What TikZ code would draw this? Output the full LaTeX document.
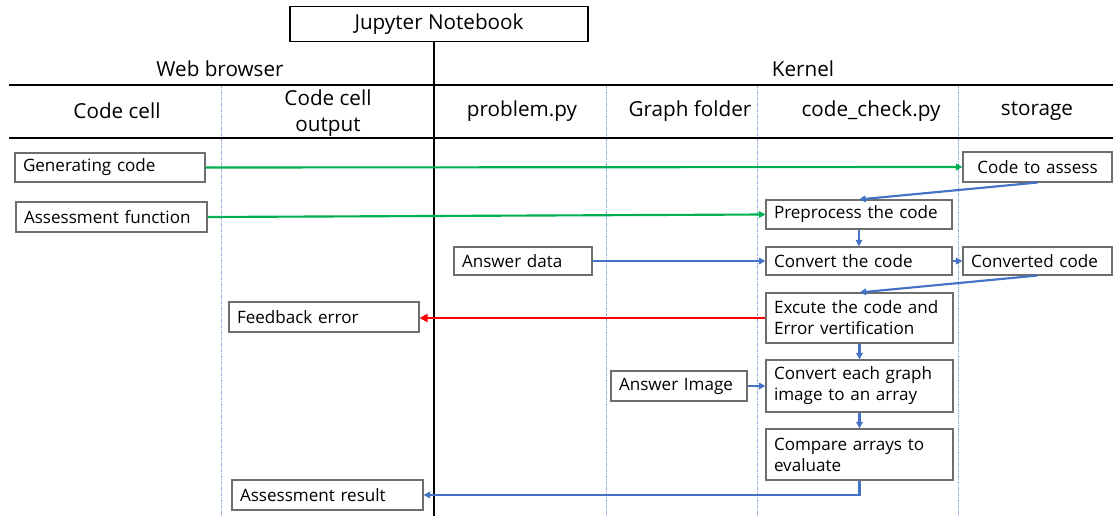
\documentclass[tikz,border=0pt]{standalone}
\usepackage{fontspec}
\setmainfont{Open Sans}
\usetikzlibrary{arrows.meta}
\definecolor{gline}{RGB}{0,176,80}
\definecolor{bline}{RGB}{68,114,196}
\definecolor{rline}{RGB}{255,0,0}
\definecolor{boxgray}{RGB}{110,110,110}
\definecolor{divblue}{RGB}{143,170,220}
\tikzset{
  bx/.style={draw=boxgray, line width=0.8pt, align=left, inner xsep=6pt, inner ysep=0pt,
    font=\fontsize{12.8}{15.75}\selectfont, fill=white},
  bw/.code={\pgfmathsetmacro\bwA{#1*0.75}\pgfmathsetmacro\bwB{#1*0.75-12}\tikzset{minimum width=\bwA pt, text width=\bwB pt}},
  bh/.code={\pgfmathsetmacro\bhA{#1*0.75}\tikzset{minimum height=\bhA pt}},
  hdr/.style={font=\fontsize{15.5}{19.5}\selectfont, align=center, inner sep=0pt},
  thick line/.style={line width=1.6pt, black},
  divider/.style={divblue, line width=0.6pt, dash pattern=on 2pt off 1pt on 0.5pt off 1pt},
  garrow/.style={gline, line width=1.6pt, -{Triangle[length=5pt,width=5pt]}},
  barrow/.style={bline, line width=1.6pt, -{Triangle[length=5pt,width=5pt]}},
  rarrow/.style={rline, line width=2.2pt, -{Triangle[length=6pt,width=6pt]}},
}
\begin{document}
\begin{tikzpicture}[x=0.75pt,y=-0.75pt]
\useasboundingbox (0,0) rectangle (1113,516);
% header structure
\node[draw=black, line width=0.9pt, minimum width=223.5pt, minimum height=26.25pt, hdr] (jn) at (439,24) {Jupyter Notebook};
\coordinate (vtop) at (434,41);
\coordinate (vbot) at (434,516);
\coordinate (h1l) at (9,85);
\coordinate (h1r) at (1113,85);
\coordinate (h2l) at (9,138);
\coordinate (h2r) at (1113,138);
\foreach \x/\n in {221/a,606/b,757/c,958/d} {
  \coordinate (dt\n) at (\x,85);
  \coordinate (db\n) at (\x,516);
  \draw[divider] (dt\n) -- (db\n);
}
\draw[thick line] (h1l) -- (h1r);
\draw[thick line] (h2l) -- (h2r);
\draw[thick line] (vtop) -- (vbot);
\node[hdr] (web) at (220,69) {Web browser};
\node[hdr] (kern) at (803,69) {Kernel};
\node[hdr] (cc) at (117,111) {Code cell};
\node[hdr] (cco) at (328,113) {Code cell\\output};
\node[hdr] (prob) at (522,111) {problem.py};
\node[hdr] (graph) at (690,111) {Graph folder};
\node[hdr] (chk) at (871,111) {code\_check.py};
\node[hdr] (stor) at (1037,111) {storage};
% boxes
\node[bx, bw=190, bh=29] (gen) at (110,167.5) {Generating code};
\node[bx, bw=191, bh=30] (assess) at (111.5,217) {Assessment function};
\node[bx, bw=149, bh=30, align=center] (toassess) at (1037.5,167) {Code to assess};
\node[bx, bw=186, bh=29] (pre) at (859,214.5) {Preprocess the code};
\node[bx, bw=138, bh=28] (ansdata) at (523,261) {Answer data};
\node[bx, bw=186, bh=28] (conv) at (859,261) {Convert the code};
\node[bx, bw=149, bh=28] (converted) at (1037.5,261) {Converted code};
\node[bx, bw=187, bh=50] (exec) at (859.5,318) {Excute the code and\\Error vertification};
\node[bx, bw=190, bh=30] (feed) at (324,317) {Feedback error};
\node[bx, bw=136, bh=30] (ansimg) at (679,386) {Answer Image};
\node[bx, bw=187, bh=52] (convarr) at (859.5,386) {Convert each graph\\image to an array};
\node[bx, bw=187, bh=51] (cmp) at (859.5,454.5) {Compare arrays to\\evaluate};
\node[bx, bw=191, bh=30] (result) at (327.5,495) {Assessment result};
% connectors
\draw[garrow] (gen.east) -- (toassess.west);
\draw[garrow] (assess.east) -- (pre.west);
\draw[barrow] (toassess.south) -- (pre.north);
\draw[barrow] (pre.south) -- (conv.north);
\draw[barrow] (ansdata.east) -- (conv.west);
\draw[barrow] (conv.east) -- (converted.west);
\draw[barrow] (converted.south) -- (exec.north);
\draw[rarrow] (exec.west) -- (feed.east |- exec.west);
\draw[barrow] (exec.south) -- (convarr.north);
\draw[barrow] (ansimg.east) -- (convarr.west);
\draw[barrow] (convarr.south) -- (cmp.north);
\draw[barrow, line width=2.2pt] (cmp.south) -- (cmp.south |- result.east) -- (result.east);
\end{tikzpicture}
\end{document}
